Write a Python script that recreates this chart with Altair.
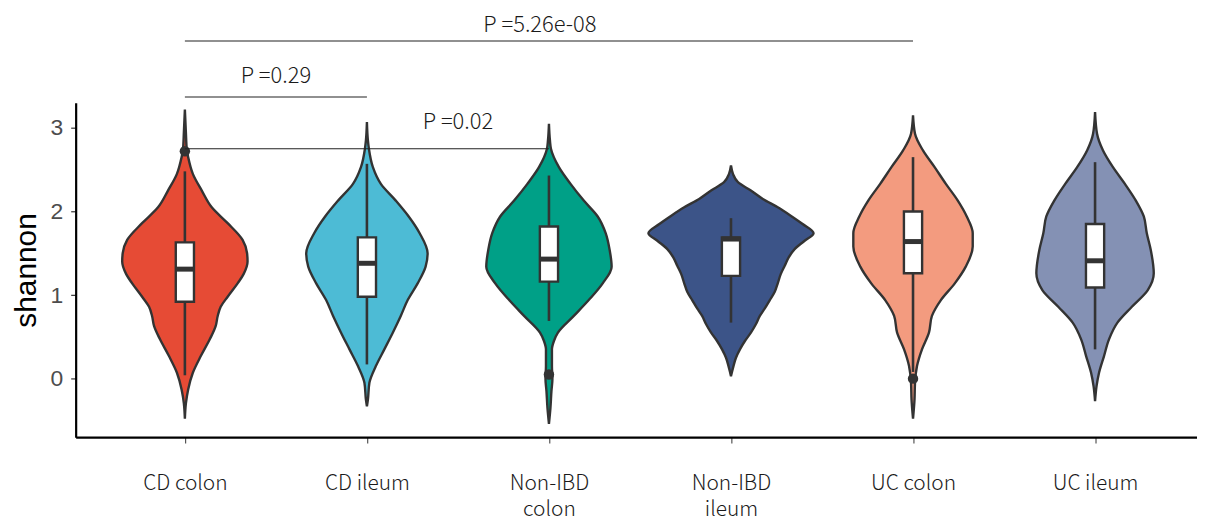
import json
import altair as alt
import pandas as pd

# ---------------- data ----------------
CATEGORIES = ["CD colon", "CD ileum", "Non-IBD colon", "Non-IBD ileum", "UC colon", "UC ileum"]
TICK_LABELS = [["CD colon"], ["CD ileum"], ["Non-IBD", "colon"], ["Non-IBD", "ileum"], ["UC colon"], ["UC ileum"]]
COLORS = ["#E64B35", "#4DBBD5", "#00A087", "#3C5488", "#F39B7F", "#8491B4"]

# violin outlines: shannon levels and (relative) density half-widths
CDC_LEVELS = [3.22, 2.95, 2.73, 2.65, 2.45, 2.25, 2.05, 1.86, 1.66, 1.50, 1.40, 1.25, 1.14, 0.98, 0.86, 0.75, 0.63, 0.47, 0.27, 0.07, -0.13, -0.30, -0.48]
CDC_DENS = [0, 1, 2, 3.3, 8, 17, 27, 43, 58, 62.5, 63, 59, 53, 43, 36, 33, 31, 25, 16, 8, 3.3, 1, 0]

CDI_LEVELS = [3.07, 2.85, 2.75, 2.53, 2.33, 2.13, 1.94, 1.74, 1.50, 1.34, 1.14, 0.94, 0.75, 0.55, 0.35, 0.15, -0.05, -0.25, -0.33]
CDI_DENS = [0, 1, 2, 6, 14, 29, 42, 53, 61, 59, 51, 41, 34, 26, 17.5, 9, 2.5, 1, 0]

NIC_LEVELS = [3.05, 2.85, 2.75, 2.53, 2.33, 2.13, 1.94, 1.74, 1.54, 1.34, 1.14, 0.94, 0.75, 0.55, 0.45, 0.35, 0.15, 0.00, -0.15, -0.35, -0.54]
NIC_DENS = [0, 1, 2, 10, 21.7, 35, 49, 57, 61, 63, 54, 40, 25, 9, 5, 3, 3, 3.5, 2.5, 1.5, 0]

NII_LEVELS = [2.55, 2.45, 2.35, 2.25, 2.15, 2.05, 1.95, 1.85, 1.74, 1.65, 1.55, 1.45, 1.35, 1.25, 1.14, 1.04, 0.94, 0.84, 0.75, 0.65, 0.55, 0.45, 0.35, 0.25, 0.15, 0.08, 0.03]
NII_DENS = [0, 2, 7, 20, 32, 47, 60, 72, 83, 74, 64, 58, 54, 50, 47, 44, 39, 34, 29, 25, 20, 14, 9, 5, 2.5, 1, 0]

UCC_LEVELS = [3.15, 2.93, 2.73, 2.53, 2.33, 2.13, 1.94, 1.74, 1.58, 1.34, 1.14, 0.94, 0.75, 0.55, 0.35, 0.15, -0.05, -0.25, -0.48]
UCC_DENS = [0, 2, 10, 21.7, 33, 45, 54, 60, 60, 53, 42, 28, 19, 16, 9, 4, 2, 1.5, 0]

UCI_LEVELS = [3.19, 2.93, 2.73, 2.53, 2.33, 2.13, 1.94, 1.74, 1.54, 1.26, 1.06, 0.86, 0.67, 0.47, 0.27, 0.07, -0.09, -0.27]
UCI_DENS = [0, 2, 8, 18, 30, 41, 49, 52, 56, 59, 53, 37, 22.5, 14, 9, 4, 1.5, 0]

LEVELS = [CDC_LEVELS, CDI_LEVELS, NIC_LEVELS, NII_LEVELS, UCC_LEVELS, UCI_LEVELS]
DENSITIES = [CDC_DENS, CDI_DENS, NIC_DENS, NII_DENS, UCC_DENS, UCI_DENS]

# box plot statistics
Q1 = [0.92, 0.98, 1.16, 1.23, 1.26, 1.09]
MEDIAN = [1.31, 1.38, 1.43, 1.67, 1.64, 1.41]
Q3 = [1.63, 1.69, 1.82, 1.69, 2.00, 1.85]
WHISK_LO = [0.04, 0.17, 0.69, 0.67, 0.08, 0.35]
WHISK_HI = [2.48, 2.57, 2.43, 1.92, 2.65, 2.59]
OUTLIER_GROUP = ["CD colon", "Non-IBD colon", "UC colon"]
OUTLIER_VALUE = [2.72, 0.05, 0.00]

# significance brackets
BR_FROM = ["CD colon", "CD colon", "CD colon"]
BR_TO = ["UC colon", "CD ileum", "Non-IBD colon"]
BR_Y = [4.04, 3.37, 2.75]
BR_LABEL = ["P =5.26e-08", "P =0.29", "P =0.02"]
BR_LABEL_X = [2.95, 1.5, 2.5]
BR_LABEL_Y = [4.23, 3.62, 3.07]

# ---------------- tables ----------------
pos = {c: i + 1 for i, c in enumerate(CATEGORIES)}

vrows = []
for c, lv, dn in zip(CATEGORIES, LEVELS, DENSITIES):
    for v, d in zip(lv, dn):
        vrows.append({"group": c, "pos": pos[c], "shannon": v, "dens": d})
violin_df = pd.DataFrame(vrows)

box_df = pd.DataFrame({
    "group": CATEGORIES,
    "pos": [pos[c] for c in CATEGORIES],
    "q1": Q1, "med": MEDIAN, "q3": Q3, "lo": WHISK_LO, "hi": WHISK_HI,
})
out_df = pd.DataFrame({"pos": [pos[g] for g in OUTLIER_GROUP], "shannon": OUTLIER_VALUE})
br_df = pd.DataFrame({
    "x1": [pos[g] for g in BR_FROM], "x2": [pos[g] for g in BR_TO], "y": BR_Y,
    "label": BR_LABEL, "tx": BR_LABEL_X, "ty": BR_LABEL_Y,
})

# ---------------- chart ----------------
W, H = 1127, 336
XDOM = [0.4, 6.56]
UNIT_PX = W / (XDOM[1] - XDOM[0])
BOX_HALF = 0.05
TEXT_FONT = "Noto Sans CJK SC"

xscale = alt.Scale(domain=XDOM, nice=False, zero=False)
yscale = alt.Scale(domain=[-0.70, 3.30], nice=False, zero=False)
cscale = alt.Scale(domain=CATEGORIES, range=COLORS)

label_expr = json.dumps(TICK_LABELS) + "[datum.value - 1]"

x_axis = alt.Axis(values=[1, 2, 3, 4, 5, 6], labelExpr=label_expr, title=None,
                  labelFont=TEXT_FONT, labelFontSize=21, labelFontWeight=300, labelColor="#1a1a1a",
                  tickSize=6, tickColor="#555555", tickWidth=1.2, labelPadding=30,
                  labelLineHeight=26, domainColor="black", domainWidth=2.2, grid=False)
y_axis = alt.Axis(values=[0, 1, 2, 3], format="d", title="shannon", grid=False,
                  labelFont="Liberation Sans", labelFontSize=23, labelColor="#4D4D4D",
                  tickSize=5, tickColor="#333333", tickWidth=1.2, labelPadding=8,
                  titleFont="Liberation Sans", titleFontSize=30, titleFontWeight="normal",
                  titleColor="black", titlePadding=9, domainColor="black", domainWidth=2.2)

violin = alt.Chart(violin_df).transform_calculate(
    left=f"datum.pos - datum.dens / {UNIT_PX}",
    right=f"datum.pos + datum.dens / {UNIT_PX}",
).mark_area(orient="horizontal", interpolate="monotone", stroke="#333333",
            strokeWidth=2.4, opacity=1).encode(
    y=alt.Y("shannon:Q", scale=yscale, axis=y_axis),
    x=alt.X("left:Q", scale=xscale, axis=x_axis),
    x2="right:Q",
    color=alt.Color("group:N", scale=cscale, legend=None),
)

whisker = alt.Chart(box_df).mark_rule(color="#333333", strokeWidth=2.6).encode(
    x=alt.X("pos:Q", scale=xscale),
    y=alt.Y("lo:Q", scale=yscale),
    y2="hi:Q",
)

box = alt.Chart(box_df).transform_calculate(
    bl=f"datum.pos - {BOX_HALF}", br=f"datum.pos + {BOX_HALF}"
).mark_rect(fill="white", stroke="#333333", strokeWidth=2.4).encode(
    x=alt.X("bl:Q", scale=xscale), x2="br:Q",
    y=alt.Y("q1:Q", scale=yscale), y2="q3:Q",
)

median = alt.Chart(box_df).transform_calculate(
    bl=f"datum.pos - {BOX_HALF}", br=f"datum.pos + {BOX_HALF}"
).mark_rule(color="#333333", strokeWidth=5).encode(
    x=alt.X("bl:Q", scale=xscale), x2="br:Q",
    y=alt.Y("med:Q", scale=yscale),
)

outliers = alt.Chart(out_df).mark_circle(color="#333333", size=110, opacity=1).encode(
    x=alt.X("pos:Q", scale=xscale),
    y=alt.Y("shannon:Q", scale=yscale),
)

brackets = alt.Chart(br_df).mark_rule(color="#222222", strokeWidth=1.1).encode(
    x=alt.X("x1:Q", scale=xscale), x2="x2:Q",
    y=alt.Y("y:Q", scale=yscale),
)

br_text = alt.Chart(br_df).mark_text(font=TEXT_FONT, fontSize=22, fontWeight=300, color="#1a1a1a",
                                     align="center", baseline="middle").encode(
    x=alt.X("tx:Q", scale=xscale),
    y=alt.Y("ty:Q", scale=yscale),
    text="label:N",
)

chart = alt.layer(violin, whisker, box, median, outliers, brackets, br_text).properties(
    width=W, height=H,
    autosize=alt.AutoSizeParams(type="none"),
    padding={"left": 68, "top": 94, "right": 0, "bottom": 84},
).configure_view(stroke=None).configure_axis(grid=False)

chart.save("out.html", embed_options={"renderer": "svg", "actions": False})
